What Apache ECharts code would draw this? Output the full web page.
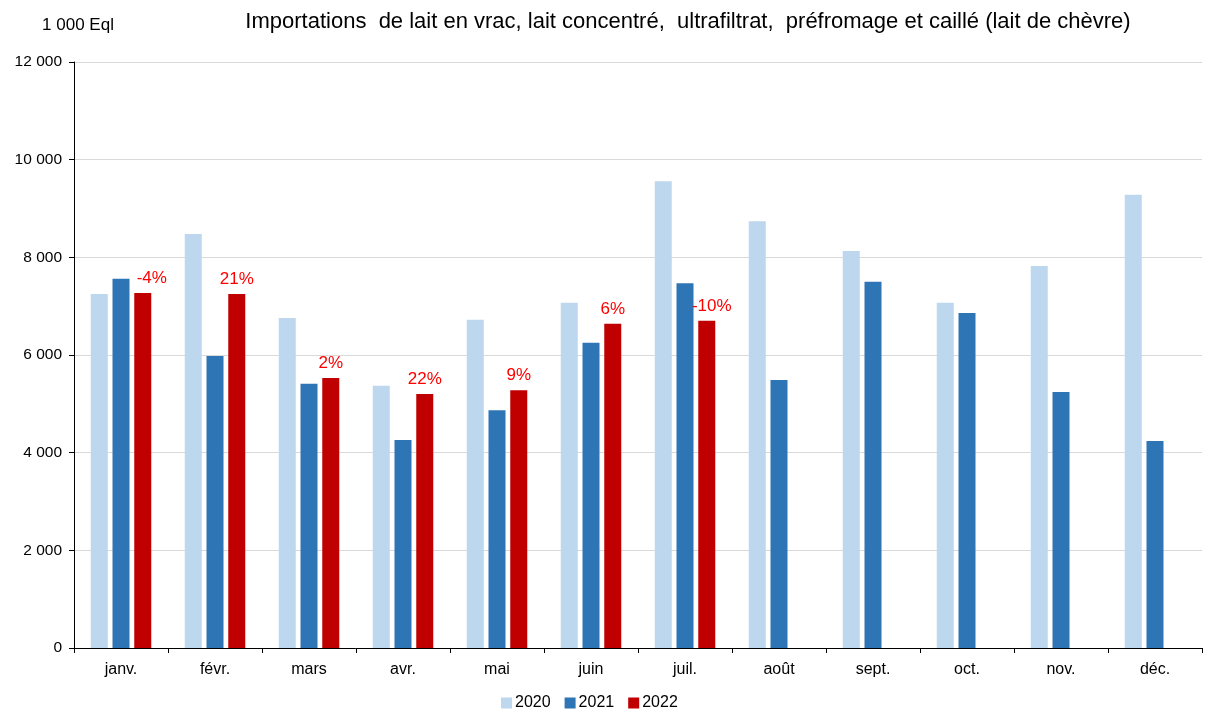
<!DOCTYPE html>
<html>
<head>
<meta charset="utf-8">
<script src="https://cdn.jsdelivr.net/npm/echarts@6/dist/echarts.min.js"></script>
<style>
  html, body { margin: 0; padding: 0; background: #fff; }
  #chart { width: 1205px; height: 710px; }
</style>
</head>
<body>
<div id="chart"></div>
<script>
const months = ["janv.", "févr.", "mars", "avr.", "mai", "juin", "juil.", "août", "sept.", "oct.", "nov.", "déc."];
const values2020 = [7250, 8480, 6760, 5370, 6720, 7070, 9560, 8740, 8130, 7070, 7820, 9280];
const values2021 = [7560, 5980, 5410, 4260, 4870, 6250, 7470, 5490, 7500, 6860, 5240, 4240];
const values2022 = [7270, 7250, 5530, 5200, 5280, 6640, 6700];
const changes2022 = ["-4%", "21%", "2%", "22%", "9%", "6%", "-10%"];

const chart = echarts.init(document.getElementById("chart"));
const font = "Liberation Sans, Arial, sans-serif";

function fmt(v) {
  return String(v).replace(/\B(?=(\d{3})+(?!\d))/g, " ");
}

const option = {
  animation: false,
  textStyle: { fontFamily: font },
  title: {
    text: "Importations  de lait en vrac, lait concentré,  ultrafiltrat,  préfromage et caillé (lait de chèvre)",
    left: 683,
    top: 6,
    textAlign: "center",
    textStyle: { fontFamily: font, fontSize: 22, fontWeight: "normal", color: "#000" },
  },
  legend: {
    data: ["2020", "2021", "2022"],
    top: 690,
    left: 496,
    icon: "rect",
    itemWidth: 11,
    itemHeight: 11,
    itemGap: 14,
    textStyle: { fontFamily: font, fontSize: 16, color: "#000", padding: [0, 0, 0, -2] },
  },
  grid: { left: 74, right: 3, top: 62, bottom: 62, containLabel: false },
  xAxis: {
    type: "category",
    data: months,
    axisLine: { lineStyle: { color: "#000", width: 1 } },
    axisTick: { show: true, length: 5, lineStyle: { color: "#000" } },
    axisLabel: { color: "#000", fontSize: 16, margin: 14, fontFamily: font },
  },
  yAxis: {
    type: "value",
    min: 0,
    max: 12000,
    interval: 2000,
    name: "1 000 Eql",
    nameLocation: "end",
    nameGap: 28,
    nameTextStyle: { color: "#000", fontSize: 17, fontFamily: font, align: "center", padding: [0, 0, 0, 8] },
    axisLine: { show: true, lineStyle: { color: "#000", width: 1 } },
    axisTick: { show: true, length: 5, lineStyle: { color: "#000" } },
    axisLabel: { color: "#000", fontSize: 15.5, margin: 12, fontFamily: font, formatter: fmt },
    splitLine: { lineStyle: { color: "#d9d9d9", width: 1 } },
  },
  series: [
    {
      name: "2020",
      type: "bar",
      barWidth: 17,
      barGap: "28%",
      data: values2020,
      itemStyle: { color: "#bdd7ee" },
    },
    {
      name: "2021",
      type: "bar",
      barWidth: 17,
      barGap: "28%",
      data: values2021,
      itemStyle: { color: "#2e75b6" },
    },
    {
      name: "2022",
      type: "bar",
      barWidth: 17,
      barGap: "28%",
      data: values2022.map((v, i) => ({
        value: v,
        label: {
          show: true,
          position: "top",
          distance: 6,
          offset: i === 0 ? [9, 0] : i === 6 ? [5, 0] : [0, 0],
          formatter: changes2022[i],
          color: "#ff0000",
          fontSize: 17,
          fontFamily: font,
        },
      })),
      itemStyle: { color: "#c00000" },
    },
  ],
};

chart.setOption(option);
</script>
</body>
</html>
